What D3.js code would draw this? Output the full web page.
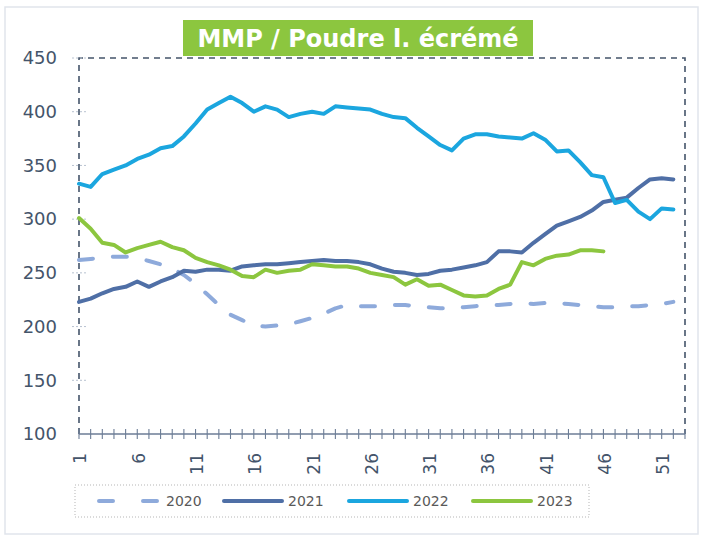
<!DOCTYPE html>
<html>
<head>
<meta charset="utf-8">
<style>
  body { margin: 0; background: #fff; }
  svg { display: block; font-family: "DejaVu Sans", Verdana, sans-serif; }
</style>
<script src="https://d3js.org/d3.v7.min.js"></script>
</head>
<body>
<svg width="704" height="539"></svg>
<script>
// weekly prices, one array per year (week 1 .. 52)
var v2020 = [262,263,264,265,265,264,261,258,254,248,240,230,220,211,206,201,200,201,202,205,
             208,212,217,220,219,219,219,220,220,219,218,217,217,218,219,220,220,221,222,221,
             222,222,221,220,219,218,218,219,219,220,221,223];
var v2021 = [223,226,231,235,237,242,237,242,246,252,251,253,253,252,256,257,258,258,259,260,
             261,262,261,261,260,258,254,251,250,248,249,252,253,255,257,260,270,270,269,278,
             286,294,298,302,308,316,318,320,329,337,338,337];
var v2022 = [333,330,342,346,350,356,360,366,368,377,389,402,408,414,408,400,405,402,395,398,
             400,398,405,404,403,402,398,395,394,385,377,369,364,375,379,379,377,376,375,380,
             374,363,364,353,341,339,315,318,307,300,310,309];
var v2023 = [301,291,278,276,269,273,276,279,274,271,264,260,257,253,247,246,253,250,252,253,
             258,257,256,256,254,250,248,246,239,244,238,239,234,229,228,229,235,239,260,257,
             263,266,267,271,271,270];

var years = ["2020", "2021", "2022", "2023"];
var yTicks = [100, 150, 200, 250, 300, 350, 400, 450];
var xLabels = [1, 6, 11, 16, 21, 26, 31, 36, 41, 46, 51];
var weeks = d3.range(1, 54);

var series = [
  {name: "2020", values: v2020, color: "#8eaadb", dash: "14,20"},
  {name: "2021", values: v2021, color: "#4f6fa6", dash: null},
  {name: "2022", values: v2022, color: "#1ba6df", dash: null},
  {name: "2023", values: v2023, color: "#8cc63f", dash: null}
];

var svg = d3.select("svg");
var axisColor = "#44546a";

var x = d3.scaleLinear().domain([1, 53]).range([79, 685]);
var y = d3.scaleLinear().domain([100, 450]).range([434, 58]);

// faint outer frame
svg.append("rect").attr("x", 5).attr("y", 7).attr("width", 693).attr("height", 527)
  .attr("fill", "none").attr("stroke", "#e1e5ec").attr("stroke-width", 1.5);

// title
svg.append("rect").attr("x", 183).attr("y", 20).attr("width", 350).attr("height", 36)
  .attr("fill", "#8cc63f");
svg.append("text").attr("x", 358).attr("y", 47).attr("text-anchor", "middle")
  .attr("fill", "#fff").attr("font-size", 24).attr("font-weight", "bold")
  .text("MMP / Poudre l. écrémé");

// dashed frame (left, top, right)
svg.append("path")
  .attr("d", "M" + x(1) + "," + y(100) + "V" + y(450) + "H" + x(53) + "V" + y(100))
  .attr("fill", "none").attr("stroke", axisColor).attr("stroke-width", 1.6)
  .attr("stroke-dasharray", "6,5");

// y axis labels
var yAxis = svg.append("g").attr("transform", "translate(" + x(1) + ",0)")
  .call(d3.axisLeft(y).tickValues(yTicks).tickSize(0).tickPadding(22));
yAxis.select(".domain").remove();
yAxis.selectAll("text").attr("font-size", 18).attr("fill", axisColor)
  .attr("font-family", "DejaVu Sans, sans-serif");

// small cross ticks on y
svg.append("g").selectAll("line").data(yTicks.slice(1)).join("line")
  .attr("x1", x(1) - 7).attr("x2", x(1) + 7)
  .attr("y1", function(d) { return y(d); }).attr("y2", function(d) { return y(d); })
  .attr("stroke", "#b8c2d0").attr("stroke-width", 1).attr("stroke-dasharray", "2,2");

// x axis
var xAxis = svg.append("g").attr("transform", "translate(0," + y(100) + ")")
  .call(d3.axisBottom(x).tickValues(xLabels).tickSize(0).tickPadding(0).tickFormat(d3.format("d")));
xAxis.select(".domain").remove();
xAxis.selectAll("text")
  .attr("font-size", 17).attr("fill", axisColor).attr("font-family", "DejaVu Sans, sans-serif")
  .attr("transform", "rotate(-90)").attr("text-anchor", "end")
  .attr("x", -19).attr("y", 1).attr("dy", "0.35em");

svg.append("line").attr("x1", x(1)).attr("x2", x(53)).attr("y1", y(100)).attr("y2", y(100))
  .attr("stroke", "#6c7d96").attr("stroke-width", 1.3);
svg.append("g").selectAll("line").data(weeks).join("line")
  .attr("x1", function(d) { return x(d); }).attr("x2", function(d) { return x(d); })
  .attr("y1", y(100) - 5).attr("y2", y(100) + 5)
  .attr("stroke", "#6c7d96").attr("stroke-width", 1.1);

// lines
var line = d3.line()
  .x(function(d, i) { return x(i + 1); })
  .y(function(d) { return y(d); });

svg.append("g").selectAll("path").data(series).join("path")
  .attr("d", function(s) { return line(s.values); })
  .attr("fill", "none")
  .attr("stroke", function(s) { return s.color; })
  .attr("stroke-width", 4)
  .attr("stroke-linejoin", "round")
  .attr("stroke-linecap", "round")
  .attr("stroke-dasharray", function(s) { return s.dash; });

// legend
svg.append("rect").attr("x", 75).attr("y", 485).attr("width", 514).attr("height", 32)
  .attr("fill", "none").attr("stroke", "#b5b5b5").attr("stroke-width", 1)
  .attr("stroke-dasharray", "1,2");

var legendX = [99, 224, 349, 473];
var item = svg.append("g").selectAll("g").data(series).join("g")
  .attr("transform", function(s, i) { return "translate(" + legendX[i] + ",501)"; });
item.append("path")
  .attr("d", "M0,0H58")
  .attr("stroke", function(s) { return s.color; })
  .attr("stroke-width", 4)
  .attr("stroke-linecap", "round")
  .attr("stroke-dasharray", function(s) { return s.dash ? "14,30" : null; });
item.append("text").attr("x", function(s, i) { return i === 0 ? 67 : 64; }).attr("dy", "0.35em")
  .attr("font-size", 14).attr("fill", "#595959")
  .text(function(s) { return s.name; });
</script>
</body>
</html>
